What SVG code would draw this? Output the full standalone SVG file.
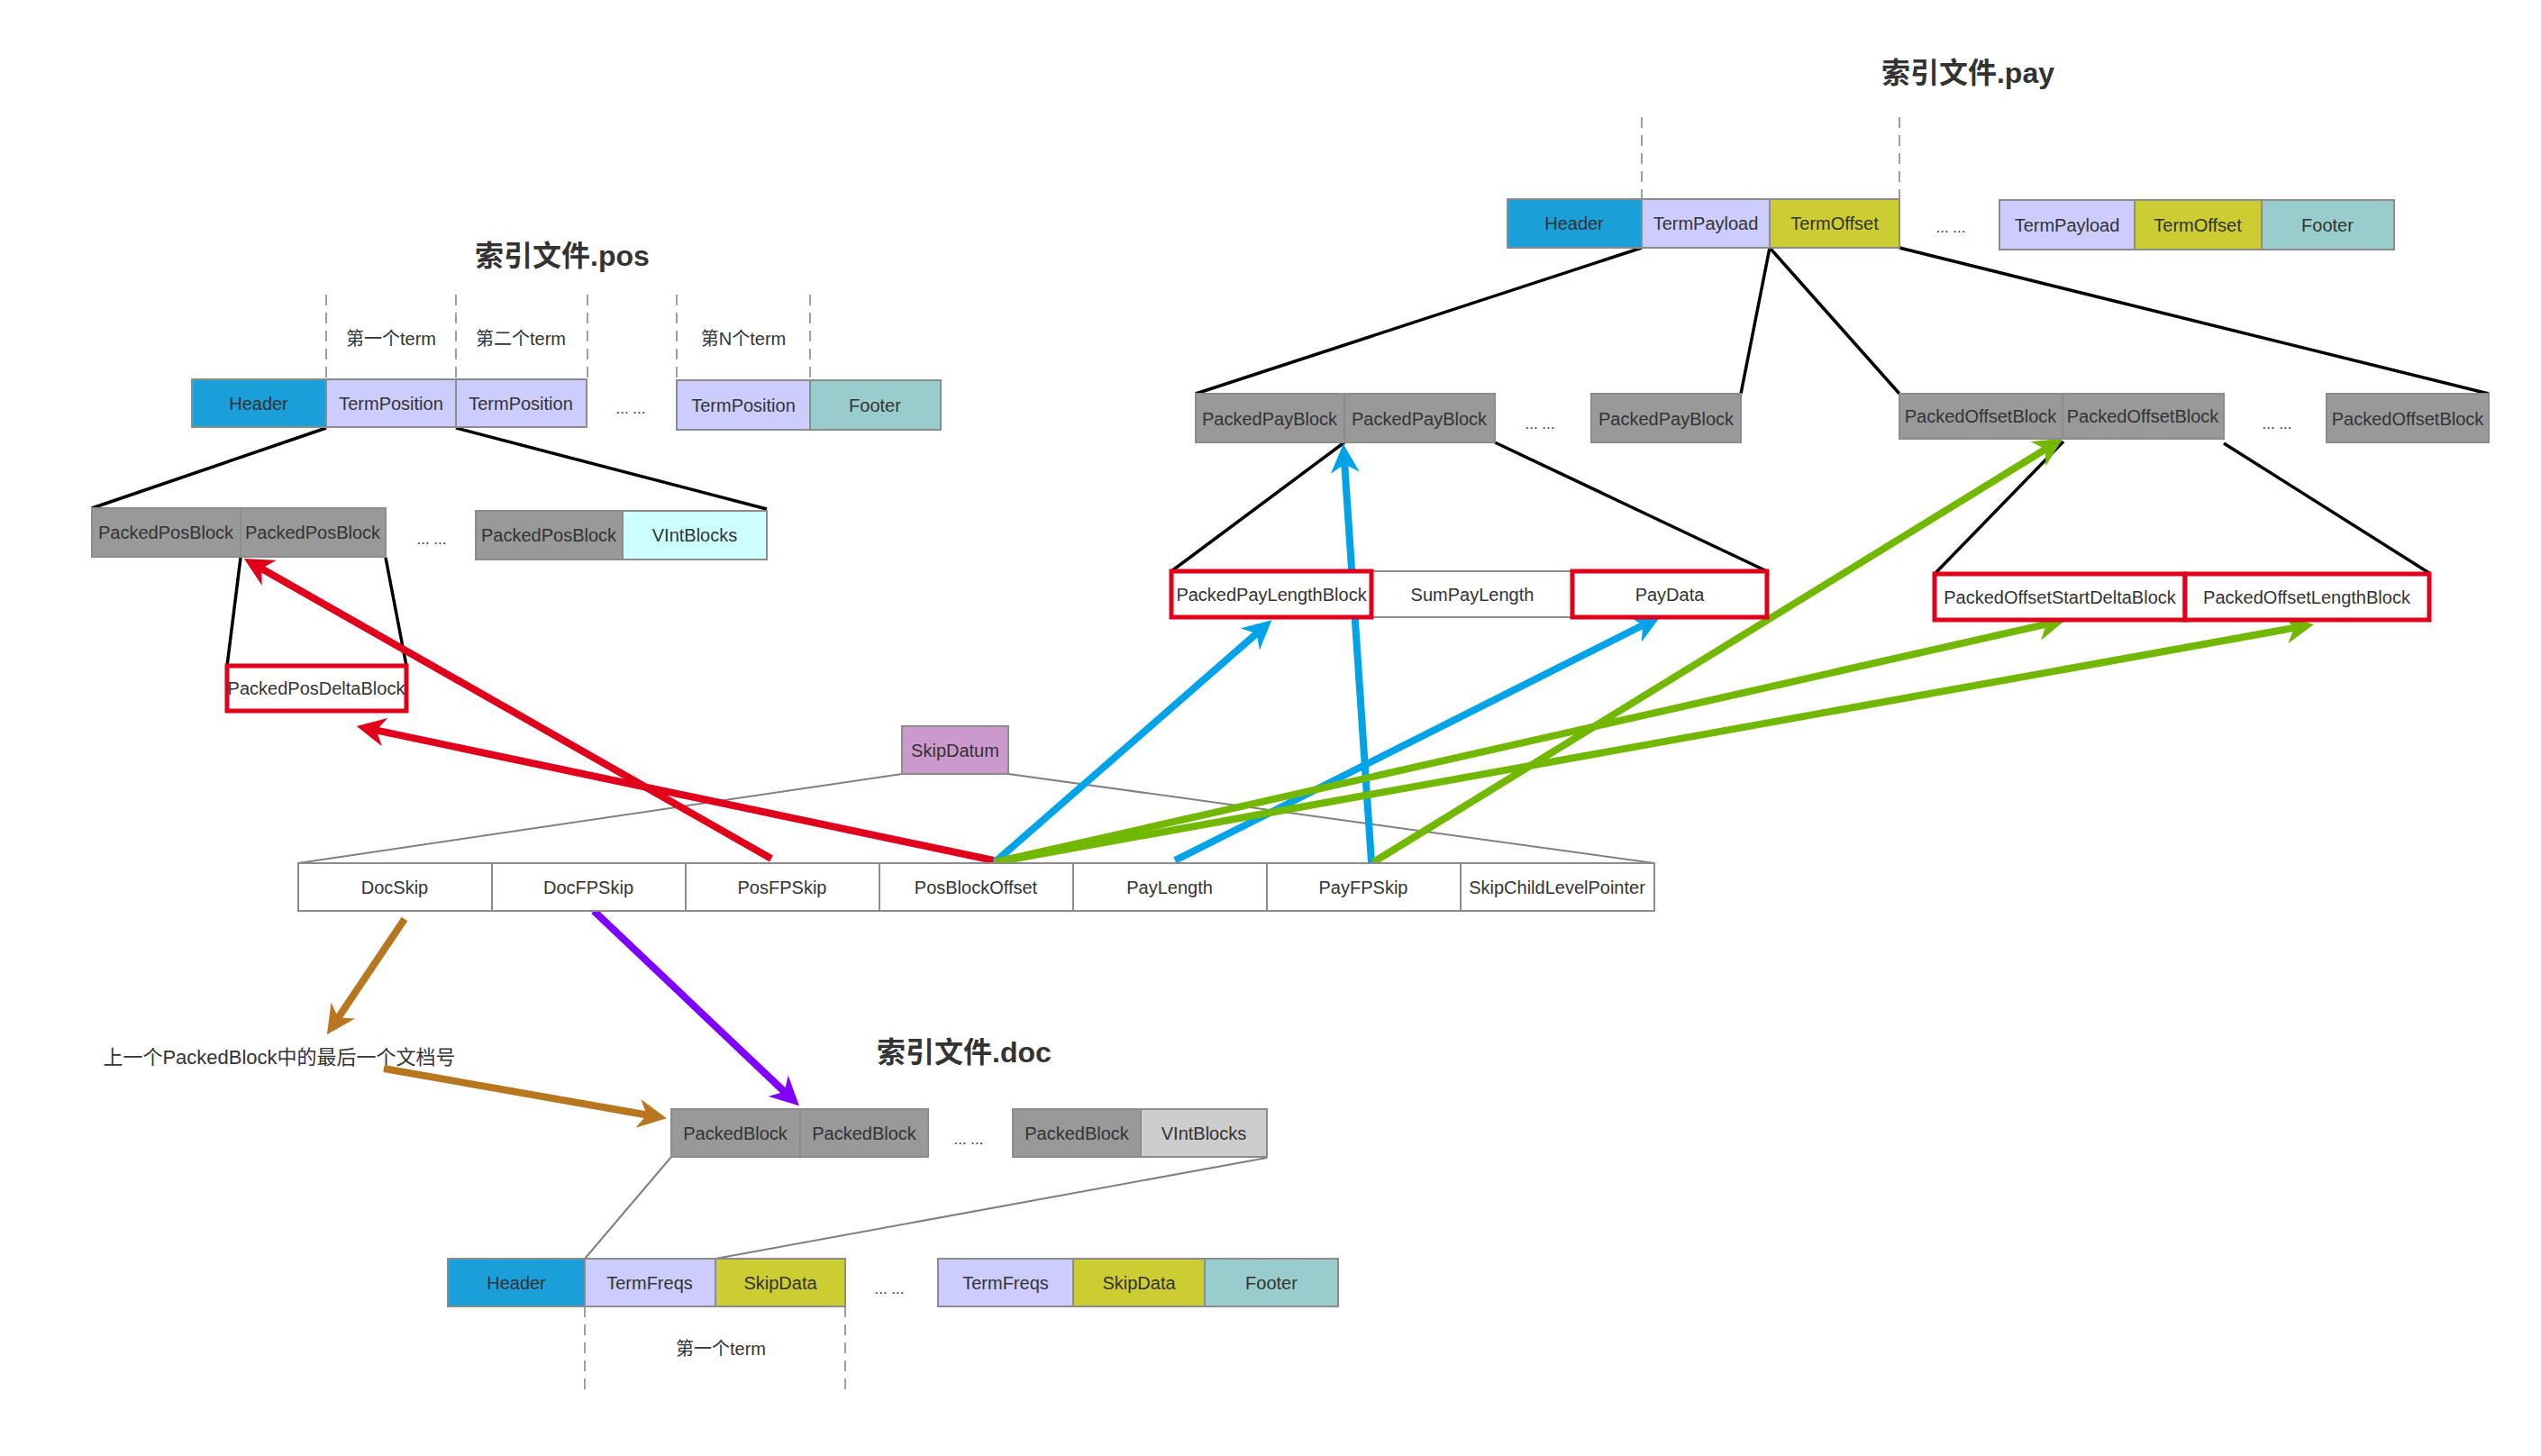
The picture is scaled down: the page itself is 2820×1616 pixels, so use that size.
<svg xmlns="http://www.w3.org/2000/svg" width="2820" height="1616" viewBox="0 0 2820 1616">
<style>
.b{stroke:#8c8c8c;stroke-width:2}
.hdr{fill:#1a9fd8}.tp{fill:#ccccff}.to{fill:#cccc33}.ft{fill:#99cccc}
.gr{fill:#999999}.vc{fill:#ccffff}.vg{fill:#cccccc}.wh{fill:#ffffff}.sk{fill:#cc99cc}
.rd{fill:#ffffff;stroke:#e0001b;stroke-width:5}
text{font-family:"Liberation Sans","Noto Sans CJK SC",sans-serif;font-size:20px;fill:#333;text-anchor:middle;dominant-baseline:central}
.ttl{font-size:32px;font-weight:bold}
.dots{font-size:17px}
.dash{stroke:#888;stroke-width:1.6;stroke-dasharray:12,8;fill:none}
.blk{stroke:#000;stroke-width:3.5;fill:none}
.gry{stroke:#808080;stroke-width:2;fill:none}
.ar{stroke-width:8;fill:none}
</style>
<defs>
<marker id="mR" viewBox="0 0 10 10" refX="4" refY="5" markerWidth="4" markerHeight="4" orient="auto" markerUnits="strokeWidth"><path d="M0,0 L10,5 L0,10 L3,5 z" fill="#e0001b"/></marker>
<marker id="mB" viewBox="0 0 10 10" refX="4" refY="5" markerWidth="4" markerHeight="4" orient="auto" markerUnits="strokeWidth"><path d="M0,0 L10,5 L0,10 L3,5 z" fill="#00a3e8"/></marker>
<marker id="mG" viewBox="0 0 10 10" refX="4" refY="5" markerWidth="4" markerHeight="4" orient="auto" markerUnits="strokeWidth"><path d="M0,0 L10,5 L0,10 L3,5 z" fill="#72b800"/></marker>
<marker id="mO" viewBox="0 0 10 10" refX="4" refY="5" markerWidth="4" markerHeight="4" orient="auto" markerUnits="strokeWidth"><path d="M0,0 L10,5 L0,10 L3,5 z" fill="#b8761e"/></marker>
<marker id="mP" viewBox="0 0 10 10" refX="4" refY="5" markerWidth="4" markerHeight="4" orient="auto" markerUnits="strokeWidth"><path d="M0,0 L10,5 L0,10 L3,5 z" fill="#8000ff"/></marker>
</defs>
<rect width="2820" height="1616" fill="#ffffff"/>

<!-- titles and free labels -->
<text id="title-pos" class="ttl" x="624" y="284">索引文件.pos</text>
<text id="title-pay" class="ttl" x="2184" y="81">索引文件.pay</text>
<text id="title-doc" class="ttl" x="1070" y="1168">索引文件.doc</text>
<text x="434" y="376">第一个term</text>
<text x="578" y="376">第二个term</text>
<text x="825" y="376">第N个term</text>
<text x="800" y="1497">第一个term</text>
<text id="lastdoc" x="310" y="1173" style="font-size:22px">上一个PackedBlock中的最后一个文档号</text>
<text class="dots" x="700" y="453">... ...</text>
<text class="dots" x="479" y="598">... ...</text>
<text class="dots" x="2165" y="252">... ...</text>
<text class="dots" x="1709" y="470">... ...</text>
<text class="dots" x="2527" y="470">... ...</text>
<text class="dots" x="1075" y="1264">... ...</text>
<text class="dots" x="987" y="1430">... ...</text>

<!-- dashed separators -->
<g id="dashes">
<path class="dash" d="M362,327V421M506,327V421M652,327V421M751,327V421M899,327V421"/>
<path class="dash" d="M1822,130V221M2108,130V221"/>
<path class="dash" d="M649,1450V1543M938,1450V1543"/>
</g>

<!-- connectors -->
<g id="connectors">
<path class="blk" d="M362,475L102,564M506,475L851,565M267,619L252,739M428,619L451,739"/>
<path class="blk" d="M1822,275L1327,437M1964,275L1932,437M1964,275L2108,437M2108,275L2762,437"/>
<path class="blk" d="M1492,491L1300,634M1659,491L1961,634M2290,490L2147,637M2468,492L2696,636"/>
<path class="gry" d="M1001,859L331,958M1119,859L1836,958"/>
<path class="gry" d="M745,1284L649,1397M1406,1285L794,1397"/>

<line class="ar" stroke="#e0001b" x1="856" y1="953" x2="287.5" y2="629.4" marker-end="url(#mR)"/>
<line class="ar" stroke="#e0001b" x1="1103" y1="955" x2="414.6" y2="809.9" marker-end="url(#mR)"/>
<line class="ar" stroke="#00a3e8" x1="1104" y1="957" x2="1397" y2="701" marker-end="url(#mB)"/>
<line class="ar" stroke="#00a3e8" x1="1304" y1="955" x2="1826" y2="692.5" marker-end="url(#mB)"/>
<line class="ar" stroke="#00a3e8" x1="1522" y1="957" x2="1492" y2="512" marker-end="url(#mB)"/>
<line class="ar" stroke="#72b800" x1="1524" y1="957" x2="2272.8" y2="496.9" marker-end="url(#mG)"/>
<line class="ar" stroke="#72b800" x1="1104" y1="957" x2="2274" y2="692.2" marker-end="url(#mG)"/>
<line class="ar" stroke="#72b800" x1="1104" y1="957" x2="2549" y2="696.4" marker-end="url(#mG)"/>
<line class="ar" stroke="#b8761e" x1="449" y1="1020" x2="373.6" y2="1132.2" marker-end="url(#mO)"/>
<line class="ar" stroke="#b8761e" x1="426" y1="1186" x2="721" y2="1238" marker-end="url(#mO)"/>
<line class="ar" stroke="#8000ff" x1="659" y1="1011" x2="873" y2="1214" marker-end="url(#mP)"/>
</g>

<!-- .pos nodes -->
<g id="pos-header"><rect class="hdr b" x="213" y="421" width="149" height="53"/><text x="287" y="448">Header</text></g>
<g id="pos-tp1"><rect class="tp b" x="362" y="421" width="144" height="53"/><text x="434" y="448">TermPosition</text></g>
<g id="pos-tp2"><rect class="tp b" x="506" y="421" width="145" height="53"/><text x="578" y="448">TermPosition</text></g>
<g id="pos-tpn"><rect class="tp b" x="751" y="422" width="148" height="55"/><text x="825" y="450">TermPosition</text></g>
<g id="pos-footer"><rect class="ft b" x="899" y="422" width="145" height="55"/><text x="971" y="450">Footer</text></g>
<g id="pos-ppb1"><rect class="gr b" x="102" y="564" width="165" height="54"/><text x="184" y="591">PackedPosBlock</text></g>
<g id="pos-ppb2"><rect class="gr b" x="267" y="564" width="161" height="54"/><text x="347" y="591">PackedPosBlock</text></g>
<g id="pos-ppb3"><rect class="gr b" x="528" y="567" width="163" height="54"/><text x="609" y="594">PackedPosBlock</text></g>
<g id="pos-vint"><rect class="vc b" x="691" y="567" width="160" height="54"/><text x="771" y="594">VIntBlocks</text></g>
<g id="pos-delta"><rect class="rd" x="252" y="739" width="199" height="50"/><text x="351" y="764">PackedPosDeltaBlock</text></g>

<!-- .pay nodes -->
<g id="pay-header"><rect class="hdr b" x="1673" y="221" width="149" height="54"/><text x="1747" y="248">Header</text></g>
<g id="pay-tpl1"><rect class="tp b" x="1822" y="221" width="142" height="54"/><text x="1893" y="248">TermPayload</text></g>
<g id="pay-tof1"><rect class="to b" x="1964" y="221" width="144" height="54"/><text x="2036" y="248">TermOffset</text></g>
<g id="pay-tpl2"><rect class="tp b" x="2219" y="222" width="150" height="55"/><text x="2294" y="250">TermPayload</text></g>
<g id="pay-tof2"><rect class="to b" x="2369" y="222" width="141" height="55"/><text x="2439" y="250">TermOffset</text></g>
<g id="pay-footer"><rect class="ft b" x="2510" y="222" width="147" height="55"/><text x="2583" y="250">Footer</text></g>
<g id="pay-ppb1"><rect class="gr b" x="1327" y="437" width="165" height="54"/><text x="1409" y="465">PackedPayBlock</text></g>
<g id="pay-ppb2"><rect class="gr b" x="1492" y="437" width="167" height="54"/><text x="1575" y="465">PackedPayBlock</text></g>
<g id="pay-ppb3"><rect class="gr b" x="1766" y="437" width="166" height="54"/><text x="1849" y="465">PackedPayBlock</text></g>
<g id="pay-pob1"><rect class="gr b" x="2108" y="437" width="181" height="50"/><text x="2198" y="462">PackedOffsetBlock</text></g>
<g id="pay-pob2"><rect class="gr b" x="2289" y="437" width="179" height="50"/><text x="2378" y="462">PackedOffsetBlock</text></g>
<g id="pay-pob3"><rect class="gr b" x="2582" y="437" width="180" height="54"/><text x="2672" y="465">PackedOffsetBlock</text></g>
<g id="pay-sum"><rect class="wh b" x="1522" y="634" width="223" height="51"/><text x="1634" y="660">SumPayLength</text></g>
<g id="pay-plb"><rect class="rd" x="1300" y="634" width="222" height="51"/><text x="1411" y="660">PackedPayLengthBlock</text></g>
<g id="pay-data"><rect class="rd" x="1745" y="634" width="216" height="51"/><text x="1853" y="660">PayData</text></g>
<g id="pay-osd"><rect class="rd" x="2147" y="637" width="278" height="51"/><text x="2286" y="663">PackedOffsetStartDeltaBlock</text></g>
<g id="pay-olb"><rect class="rd" x="2425" y="637" width="271" height="51"/><text x="2560" y="663">PackedOffsetLengthBlock</text></g>

<!-- skip nodes -->
<g id="skipdatum"><rect class="sk b" x="1001" y="806" width="118" height="53"/><text x="1060" y="833">SkipDatum</text></g>
<g id="skip-docskip"><rect class="wh b" x="331" y="958" width="215" height="53"/><text x="438" y="985">DocSkip</text></g>
<g id="skip-docfpskip"><rect class="wh b" x="546" y="958" width="215" height="53"/><text x="653" y="985">DocFPSkip</text></g>
<g id="skip-posfpskip"><rect class="wh b" x="761" y="958" width="215" height="53"/><text x="868" y="985">PosFPSkip</text></g>
<g id="skip-posblockoffset"><rect class="wh b" x="976" y="958" width="215" height="53"/><text x="1083" y="985">PosBlockOffset</text></g>
<g id="skip-paylength"><rect class="wh b" x="1191" y="958" width="215" height="53"/><text x="1298" y="985">PayLength</text></g>
<g id="skip-payfpskip"><rect class="wh b" x="1406" y="958" width="215" height="53"/><text x="1513" y="985">PayFPSkip</text></g>
<g id="skip-child"><rect class="wh b" x="1621" y="958" width="215" height="53"/><text x="1728" y="985">SkipChildLevelPointer</text></g>

<!-- .doc nodes -->
<g id="doc-pb1"><rect class="gr b" x="745" y="1231" width="143" height="53"/><text x="816" y="1258">PackedBlock</text></g>
<g id="doc-pb2"><rect class="gr b" x="888" y="1231" width="142" height="53"/><text x="959" y="1258">PackedBlock</text></g>
<g id="doc-pb3"><rect class="gr b" x="1124" y="1231" width="142" height="53"/><text x="1195" y="1258">PackedBlock</text></g>
<g id="doc-vint"><rect class="vg b" x="1266" y="1231" width="140" height="53"/><text x="1336" y="1258">VIntBlocks</text></g>
<g id="doc-header"><rect class="hdr b" x="497" y="1397" width="152" height="53"/><text x="573" y="1424">Header</text></g>
<g id="doc-tf1"><rect class="tp b" x="649" y="1397" width="145" height="53"/><text x="721" y="1424">TermFreqs</text></g>
<g id="doc-sd1"><rect class="to b" x="794" y="1397" width="144" height="53"/><text x="866" y="1424">SkipData</text></g>
<g id="doc-tf2"><rect class="tp b" x="1041" y="1397" width="150" height="53"/><text x="1116" y="1424">TermFreqs</text></g>
<g id="doc-sd2"><rect class="to b" x="1191" y="1397" width="146" height="53"/><text x="1264" y="1424">SkipData</text></g>
<g id="doc-footer"><rect class="ft b" x="1337" y="1397" width="148" height="53"/><text x="1411" y="1424">Footer</text></g>
</svg>
